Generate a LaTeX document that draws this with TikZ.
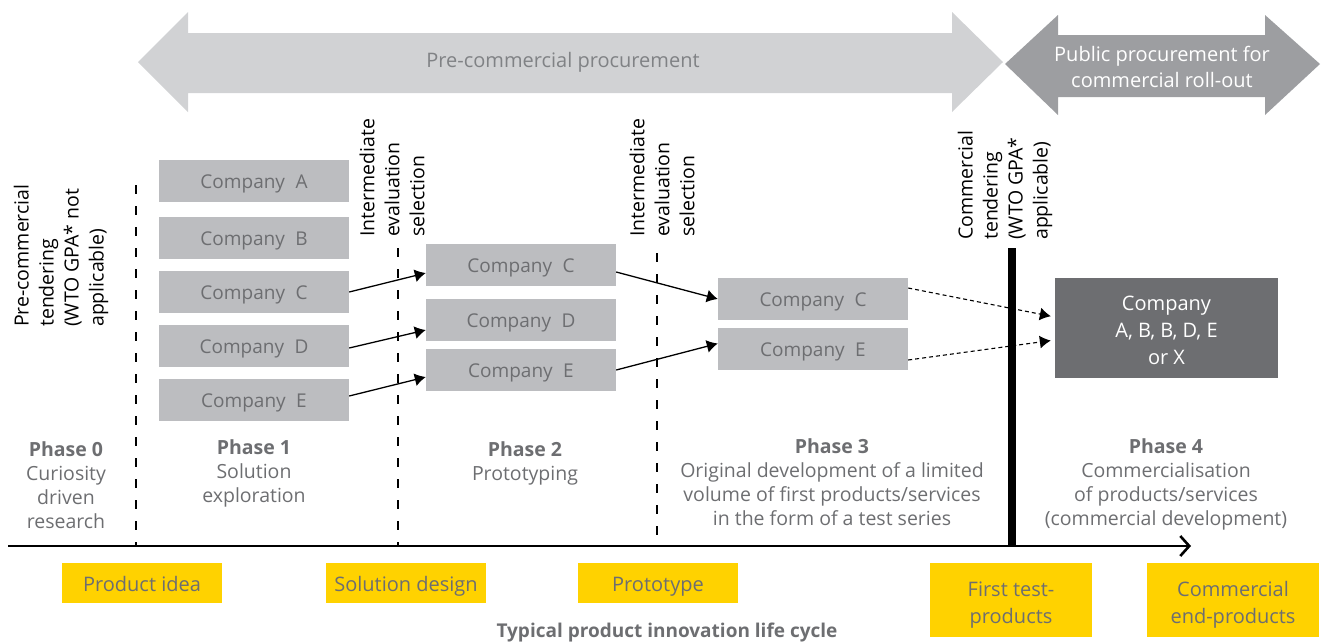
\documentclass[tikz,border=0pt]{standalone}
\usepackage{fontspec}
\setmainfont{Open Sans}
\usetikzlibrary{arrows.meta}
\definecolor{lightarr}{HTML}{D1D2D4}
\definecolor{darkarr}{HTML}{9D9EA1}
\definecolor{arrtxt}{HTML}{808285}
\definecolor{compgray}{HTML}{BCBDC0}
\definecolor{txtgray}{HTML}{6D6E71}
\definecolor{finalgray}{HTML}{6D6E71}
\definecolor{eyyellow}{HTML}{FFD200}
\tikzset{
  comp/.style={fill=compgray, minimum width=190pt, minimum height=42pt, inner sep=0pt,
    text=txtgray, text height=15.5pt, text depth=0pt, font=\fontsize{19}{22}\selectfont},
  ybox/.style={fill=eyyellow, minimum width=160pt, minimum height=40pt, inner sep=0pt,
    text=txtgray, text height=16pt, text depth=0pt, font=\fontsize{20}{27}\selectfont},
  yfill/.style={fill=eyyellow, minimum height=74pt, inner sep=0pt},
  ytext/.style={text=txtgray, align=center, inner sep=0pt, font=\fontsize{20}{27}\selectfont},
  vtext/.style={rotate=90, align=left, inner sep=0pt, anchor=west, text=black,
    font=\fontsize{19.5}{25}\selectfont},
  phasetext/.style={align=center, inner sep=0pt, anchor=north, text=txtgray,
    font=\fontsize{19.5}{24}\selectfont},
  conn/.style={line width=1.3pt, -{Latex[length=11pt,width=13pt]}},
  dconn/.style={line width=1.1pt, dash pattern=on 4pt off 3pt, -{Latex[length=11pt,width=13pt]}},
  divline/.style={line width=2.6pt, dash pattern=on 9pt off 12pt},
}
\newcommand{\cmp}[1]{Company\hspace{0.55em}#1}
\begin{document}
\begin{tikzpicture}[x=1pt,y=-1pt]
\useasboundingbox (0,0) rectangle (1322,641);

% top arrows
\fill[lightarr] (138,62) -- (188,12) -- (188,33) -- (952,33) -- (952,12) -- (1003,62)
  -- (952,112) -- (952,93) -- (188,93) -- (188,112) -- cycle;
\node[text=arrtxt, font=\fontsize{20}{24}\selectfont] (pcp) at (563,62) {Pre-commercial procurement};
\fill[darkarr] (1005,64) -- (1058,15) -- (1058,35) -- (1265,35) -- (1265,15) -- (1320,64)
  -- (1265,115) -- (1265,97) -- (1058,97) -- (1058,115) -- cycle;
\node[text=white, align=center, font=\fontsize{20}{26.5}\selectfont] (ppc) at (1162,67)
  {Public procurement for\\commercial roll-out};

% vertical texts
\node[vtext] (pct) at (61,327) {Pre-commercial\\tendering\\(WTO GPA* not\\applicable)};
\node[vtext] (ie1) at (392,237) {Intermediate\\evaluation\\selection};
\node[vtext] (ie2) at (662,237) {Intermediate\\evaluation\\selection};
\node[vtext] (ct) at (1005,240) {Commercial\\tendering\\(WTO GPA*\\applicable)};

% axis and dividers
\coordinate (ax0) at (8,546);
\coordinate (ax1) at (1191,546);
\draw[line width=2.6pt, -{Straight Barb[length=9pt,width=20pt]}] (ax0) -- (ax1);
\coordinate (d0t) at (136,185); \coordinate (d0b) at (136,545);
\coordinate (d1t) at (398,248); \coordinate (d1b) at (398,545);
\coordinate (d2t) at (657,253); \coordinate (d2b) at (657,545);
\coordinate (d3t) at (1012,248); \coordinate (d3b) at (1012,547);
\draw[divline] (d0t) -- (d0b);
\draw[divline] (d1t) -- (d1b);
\draw[divline] (d2t) -- (d2b);
\draw[line width=8pt] (d3t) -- (d3b);

% companies
\node[comp] (c1A) at (254,181) {\cmp{A}};
\node[comp] (c1B) at (254,238) {\cmp{B}};
\node[comp] (c1C) at (254,292) {\cmp{C}};
\node[comp] (c1D) at (254,346) {\cmp{D}};
\node[comp] (c1E) at (254,400) {\cmp{E}};
\node[comp] (c2C) at (521,265) {\cmp{C}};
\node[comp] (c2D) at (521,320) {\cmp{D}};
\node[comp] (c2E) at (521,370) {\cmp{E}};
\node[comp] (c3C) at (813,299) {\cmp{C}};
\node[comp] (c3E) at (813,348.5) {\cmp{E}};
\node[fill=finalgray, minimum width=223pt, minimum height=100pt, inner sep=0pt] (fin) at (1166.5,328) {};
\node[text=white, align=center, inner sep=0pt, font=\fontsize{20}{27}\selectfont] (fintxt)
  at ([yshift=-2.5pt]fin.center) {Company\\A, B, B, D, E\\or X};

% connectors
\draw[conn] (c1C.east) -- ([yshift=-8pt]c2C.west);
\draw[conn] ([yshift=-2pt]c1D.east) -- ([yshift=-10pt]c2D.west);
\draw[conn] ([yshift=4pt]c1E.east) -- ([yshift=-7pt]c2E.west);
\draw[conn] ([yshift=-7pt]c2C.east) -- (c3C.west);
\draw[conn] (c2E.east) -- ([yshift=5pt]c3E.west);
\draw[dconn, shorten >=4pt] ([yshift=11pt]c3C.east) -- ([yshift=11pt]fin.west);
\draw[dconn, shorten >=4pt] ([yshift=-11.5pt]c3E.east) -- ([yshift=-12pt]fin.west);

% phase texts
\node[phasetext] (p0) at (66,441) {\textbf{Phase 0}\\Curiosity\\driven\\research};
\node[phasetext] (p1) at (254,439) {\textbf{Phase 1}\\Solution\\exploration};
\node[phasetext] (p2) at (525,441) {\textbf{Phase 2}\\Prototyping};
\node[phasetext] (p3) at (832,438) {\textbf{Phase 3}\\Original development of a limited\\volume of first products/services\\in the form of a test series};
\node[phasetext] (p4) at (1166,438) {\textbf{Phase 4}\\Commercialisation\\of products/services\\(commercial development)};

% yellow boxes
\node[ybox] (y1) at (142,583) {Product idea};
\node[ybox] (y2) at (406,583) {Solution design};
\node[ybox] (y3) at (658,583) {Prototype};
\node[yfill, minimum width=162pt] (y4) at (1011,600) {};
\node[ytext] (y4t) at ([yshift=-5pt]y4.center) {First test-\\products};
\node[yfill, minimum width=172pt] (y5) at (1233,600) {};
\node[ytext] (y5t) at ([yshift=-5pt]y5.center) {Commercial\\end-products};

\node[text=txtgray, font=\bfseries\fontsize{19}{22}\selectfont] (cap) at (667,632) {Typical product innovation life cycle};
\end{tikzpicture}
\end{document}
